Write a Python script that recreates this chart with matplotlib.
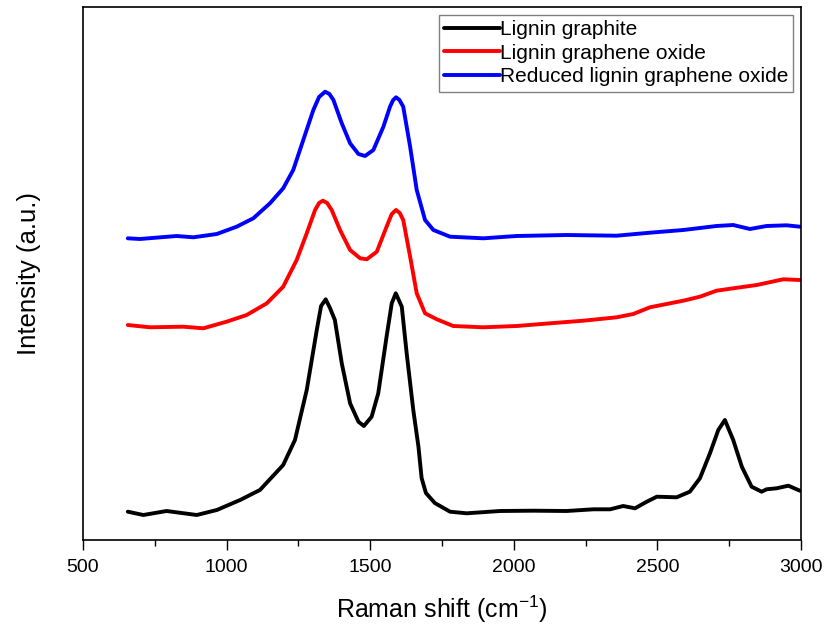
import matplotlib
matplotlib.use("Agg")
import matplotlib.pyplot as plt

plt.rcParams['font.family'] = ['Liberation Sans', 'DejaVu Sans']
plt.rcParams['mathtext.default'] = 'regular'

# ─── DONNÉES ──────────────────────────────────────────────────────────────────
x_graphite = [656, 710, 791, 896, 966, 1047, 1116, 1197, 1238, 1279, 1314, 1329,
              1345, 1360, 1377, 1401, 1430, 1459, 1478, 1505, 1528, 1557, 1575,
              1589, 1610, 1627, 1650, 1668, 1679, 1694, 1725, 1778, 1836, 1952,
              2068, 2184, 2277, 2335, 2381, 2422, 2463, 2498, 2567, 2613, 2648,
              2683, 2712, 2735, 2764, 2794, 2828, 2863, 2880, 2915, 2956, 2996]
y_graphite = [28.3, 25, 29, 25, 30, 40, 50, 75, 100, 150, 210, 234,
              240.7, 232, 220, 176.7, 136.7, 118.3, 114, 123.3, 146.7, 203.3, 236.7,
              246.7, 233.3, 186.7, 130, 93.3, 62, 47, 37, 28.3, 26.7, 29,
              29.3, 29, 30.7, 30.7, 34, 31.7, 38.3, 43.3, 42.7, 48.3, 61.7,
              86.7, 110, 120, 100, 73.3, 53.3, 48.3, 50.7, 51.7, 54.3, 49.3]

x_go = [656, 733, 849, 919, 1000, 1070, 1140, 1197, 1244, 1279, 1308, 1322, 1335,
        1350, 1366, 1395, 1430, 1465, 1488, 1523, 1557, 1575, 1590, 1603, 1615,
        1639, 1662, 1691, 1732, 1789, 1894, 2010, 2126, 2242, 2358, 2416, 2474,
        2590, 2648, 2706, 2764, 2846, 2938, 2996]
y_go = [215, 212.7, 213.3, 211.7, 218.3, 225, 236.7, 253.3, 280, 306.7, 330, 337, 339.3,
        337, 330, 310, 290, 281.7, 280.7, 288.3, 313.3, 326, 330, 327, 320,
        283.3, 246.7, 226.7, 220.7, 214, 212.7, 214, 216.7, 219.3, 222.7, 226, 232.7,
        239.3, 243.3, 249.3, 251.7, 255, 260.7, 260]

x_rgo = [656, 698, 826, 884, 966, 1035, 1093, 1151, 1197, 1232, 1267, 1302, 1322,
         1343, 1358, 1372, 1401, 1430, 1459, 1482, 1511, 1546, 1569, 1580, 1590,
         1602, 1615, 1639, 1662, 1691, 1720, 1778, 1894, 2010, 2184, 2358, 2474,
         2590, 2706, 2764, 2822, 2880, 2950, 2996]
y_rgo = [301.7, 301, 304, 302.7, 306, 313.3, 321.7, 336.7, 351.7, 370, 400, 430, 443,
         448.3, 446, 440, 416.7, 396.7, 386, 384, 390, 413.3, 433.3, 440, 442.7,
         440, 433.3, 393.3, 350, 320, 310, 303.3, 301.7, 304, 305, 304.3, 307.3,
         310, 314, 315, 311, 314, 314.7, 313.3]

labels = ["Lignin graphite", "Lignin graphene oxide", "Reduced lignin graphene oxide"]
couleurs = ["black", "red", "blue"]

# ─── FIGURE ───────────────────────────────────────────────────────────────────
fig = plt.figure(figsize=(8.28, 6.35), dpi=100)
ax = fig.add_axes([83 / 828, 1 - 540 / 635, 718 / 828, 533 / 635])

for xs, ys, lab, c in zip([x_graphite, x_go, x_rgo], [y_graphite, y_go, y_rgo],
                          labels, couleurs):
    ax.plot(xs, ys, color=c, lw=2.8, label=lab,
            solid_joinstyle='round', solid_capstyle='round')

ax.set_xlim(500, 3000)
ax.set_ylim(0, 533)
ax.set_xticks([500, 1000, 1500, 2000, 2500, 3000])
ax.set_xticks(range(750, 3000, 500), minor=True)
ax.set_yticks([])
ax.tick_params(axis='x', which='major', direction='out', length=7, width=1,
               labelsize=14, pad=7)
ax.tick_params(axis='x', which='minor', direction='out', length=4, width=1)
for s in ax.spines.values():
    s.set_linewidth(1.2)

ax.set_xlabel("Raman shift (cm$^{-1}$)", fontsize=18, labelpad=12)
ax.set_ylabel("Intensity (a.u.)", fontsize=18.5, labelpad=30)

leg = ax.legend(loc='upper right', bbox_to_anchor=(0.989, 0.985), borderaxespad=0,
                fontsize=15, handlelength=2.65, handletextpad=0, borderpad=0.25,
                labelspacing=0.22, fancybox=False, framealpha=1)
leg.get_frame().set_edgecolor('#808080')
leg.get_frame().set_linewidth(1)

fig.savefig("out.png", dpi=100)
